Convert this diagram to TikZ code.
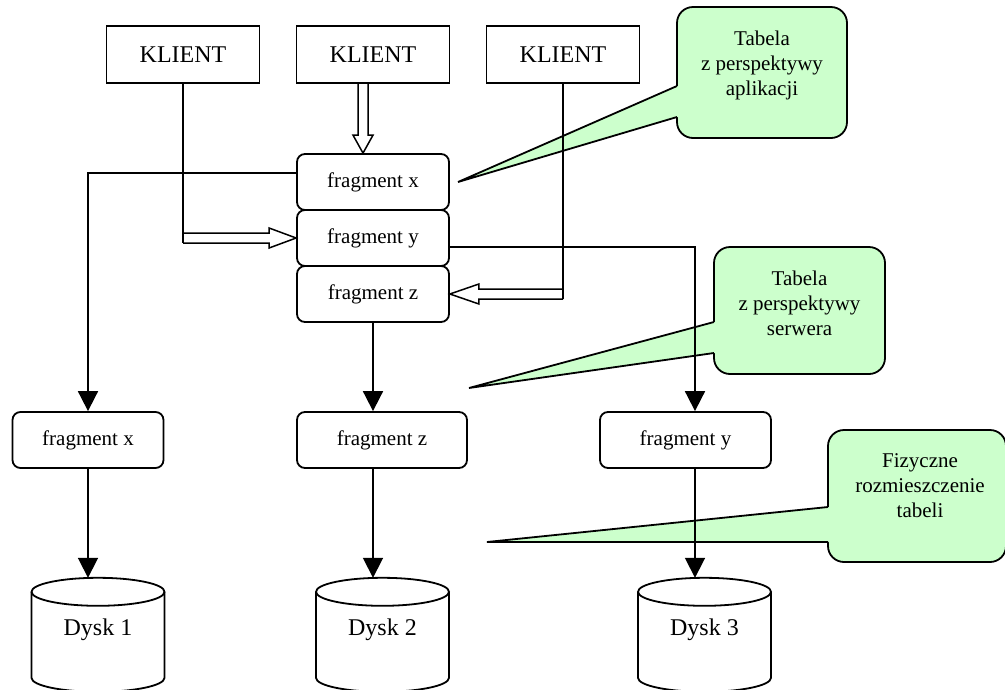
\documentclass[tikz,border=0pt]{standalone}
\usepackage{fontspec}
\setmainfont{Liberation Serif}
\usetikzlibrary{arrows.meta,calc}
\definecolor{notegreen}{HTML}{CCFFCC}
\begin{document}
\begin{tikzpicture}[x=1pt,y=-1pt,
  base/.style={line width=1.8pt},
  client/.style={draw, line width=1.8pt, minimum width=153pt, minimum height=57pt,
    inner sep=0pt, font=\fontsize{24}{28}\selectfont},
  frag/.style={draw, line width=1.8pt, rounded corners=8pt, minimum height=56pt,
    inner sep=0pt, font=\fontsize{21}{25}\selectfont},
  flow/.style={line width=1.8pt, -{Triangle[length=20pt,width=20pt]}},
  hollow/.style={line width=1.5pt, line join=miter},
  note/.style={draw, line width=1.8pt, fill=notegreen, rounded corners=16pt, inner sep=0pt},
  notetext/.style={align=center, inner sep=0pt, font=\fontsize{21}{25}\selectfont},
  drumlabel/.style={minimum width=133pt, minimum height=104pt, inner sep=0pt,
    font=\fontsize{24}{28}\selectfont}
]
\useasboundingbox (0,0) rectangle (1005,689);

% ---- callouts (drawn first, connectors pass over them) ----
\node[note, minimum width=170pt, minimum height=131pt] (n1) at (762,72.5) {};
\fill[notegreen] (458,182) -- (677,86) -- (681,86) -- (681,117) -- (677,117) -- cycle;
\draw[base] (677,86) -- (458,182) -- (677,117);
\node[notetext] at ([yshift=7.5pt]n1.center) {Tabela\\z perspektywy\\aplikacji};

\node[note, minimum width=171pt, minimum height=127pt] (n2) at (799.5,310.5) {};
\fill[notegreen] (469,388) -- (714,322) -- (718,322) -- (718,353) -- (714,353) -- cycle;
\draw[base] (714,322) -- (469,388) -- (714,353);
\node[notetext] at ([yshift=7.5pt]n2.center) {Tabela\\z perspektywy\\serwera};

\node[note, minimum width=178pt, minimum height=132pt] (n3) at (917,496) {};
\fill[notegreen] (487,542) -- (828,507) -- (832,507) -- (832,542) -- (828,542) -- cycle;
\draw[base] (828,507) -- (487,542) -- (828,542);
\node[notetext] at (920,486) {Fizyczne\\rozmieszczenie\\tabeli};

% ---- clients ----
\node[client] (k1) at (183,54.5) {KLIENT};
\node[client] (k2) at (373,54.5) {KLIENT};
\node[client] (k3) at (563,54.5) {KLIENT};

% ---- table as seen by the application ----
\node[frag, minimum width=152pt] (fx) at (373,182) {fragment x};
\node[frag, minimum width=152pt] (fy) at (373,238) {fragment y};
\node[frag, minimum width=152pt] (fz) at (373,294) {fragment z};

% ---- table as seen by the server ----
\node[frag, minimum width=151pt] (lx) at (88,440) {fragment x};
\node[frag, minimum width=170pt] (lz) at (382,440) {fragment z};
\node[frag, minimum width=171pt] (ly) at (685.5,440) {fragment y};

% ---- disks ----
\node[drumlabel] (d1) at (98,630) {Dysk 1};
\node[drumlabel] (d2) at (382.5,630) {Dysk 2};
\node[drumlabel] (d3) at (704.5,630) {Dysk 3};
\foreach \d in {d1,d2,d3}{
  \draw[base] ([yshift=-14pt]\d.north) ellipse [x radius=66.5, y radius=14];
  \draw[base] ([yshift=-14pt,xshift=-66.5pt]\d.north) -- ++(0,86)
    arc[start angle=180, end angle=0, x radius=66.5, y radius=14] -- ++(0,-86);
}

% ---- hollow arrows from the clients ----
\coordinate (t2) at ([xshift=-10pt]fx.north);
\draw[hollow] ($(t2 |- k2.south)+(-5,0)$) -- ($(t2)+(-5,-18)$) -- ($(t2)+(-10,-18)$)
  -- (t2) -- ($(t2)+(10,-18)$) -- ($(t2)+(5,-18)$) -- ($(t2 |- k2.south)+(5,0)$);

\draw[base] (k1.south) -- ($(k1.south |- fy.west)+(0,5)$);
\draw[hollow] ($(k1.south |- fy.west)+(0,5)$) -- ($(fy.west)+(-27,5)$) -- ($(fy.west)+(-27,10)$)
  -- (fy.west) -- ($(fy.west)+(-27,-10)$) -- ($(fy.west)+(-27,-5)$) -- ($(k1.south |- fy.west)+(0,-5)$);

\draw[base] (k3.south) -- ($(k3.south |- fz.east)+(0,5)$);
\draw[hollow] ($(k3.south |- fz.east)+(0,5)$) -- ($(fz.east)+(29,5)$) -- ($(fz.east)+(29,10)$)
  -- (fz.east) -- ($(fz.east)+(29,-10)$) -- ($(fz.east)+(29,-5)$) -- ($(k3.south |- fz.east)+(0,-5)$);

% ---- placement of fragments ----
\draw[flow] ([yshift=9pt]fx.west) -| (lx.north);
\draw[flow] ([yshift=-9pt]fy.east) -| ([xshift=9.5pt]ly.north);
\draw[flow] (fz.south) -- (fz.south |- lz.north);

\draw[flow] (lx.south) -- (lx.south |- d1.north);
\draw[flow] (fz.south |- lz.south) -- (fz.south |- d2.north);
\draw[flow] ([xshift=9.5pt]ly.south) -- ([xshift=9.5pt]ly.south |- d3.north);
\end{tikzpicture}
\end{document}
